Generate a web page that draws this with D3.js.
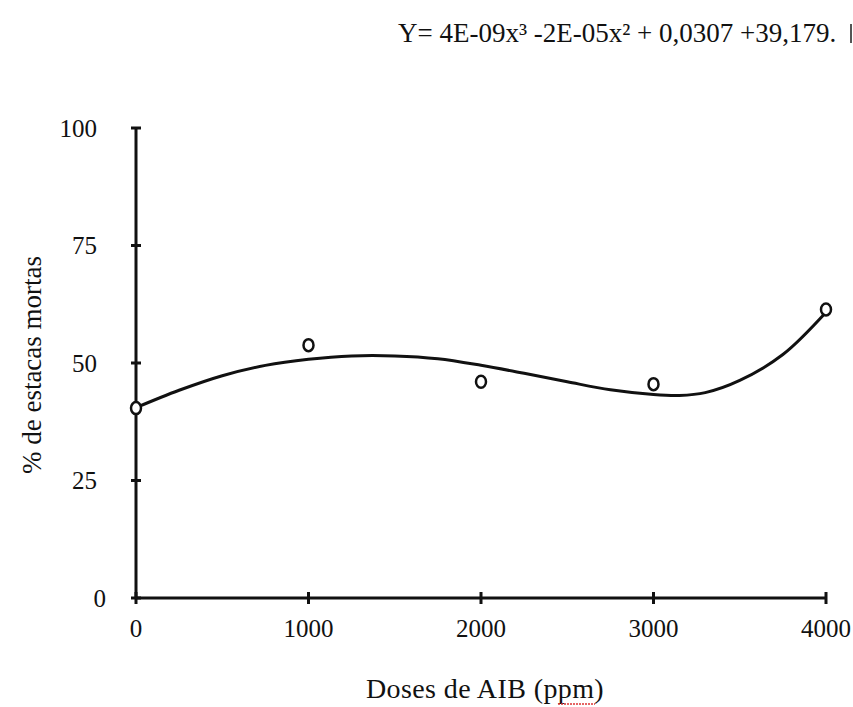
<!DOCTYPE html>
<html>
<head>
<meta charset="utf-8">
<script src="https://cdn.jsdelivr.net/npm/d3@7"></script>
<style>
  body { margin: 0; background: #fff; }
</style>
</head>
<body>
<svg id="chart"></svg>
<script>
// observed points
const doses = [0, 1000, 2000, 3000, 4000];
const mortas = [40.4, 53.8, 46.0, 45.5, 61.4];

// fitted trend curve
const curveX = [0, 250, 500, 750, 1000, 1250, 1500, 1750, 2000, 2250, 2500, 2750, 3000, 3150, 3300, 3500, 3750, 4000];
const curveY = [40.5, 44.2, 47.3, 49.5, 50.8, 51.5, 51.5, 50.9, 49.5, 47.8, 46.0, 44.3, 43.3, 43.1, 43.7, 46.3, 51.8, 60.8];

const xTicks = [0, 1000, 2000, 3000, 4000];
const yTicks = [0, 25, 50, 75, 100];

const font = (size, ls = 0) => `font-family:'Liberation Serif';font-size:${size}px;letter-spacing:${ls}px`;

const margin = {top: 128, right: 27, bottom: 109, left: 136};
const W = 853, H = 707;
const width = W - margin.left - margin.right;
const height = H - margin.top - margin.bottom;

const svg = d3.select('#chart').attr('width', W).attr('height', H);
const chart = svg.append('g').attr('transform', `translate(${margin.left},${margin.top})`);

const x = d3.scaleLinear().domain([0, 4000]).range([0, width]);
const y = d3.scaleLinear().domain([0, 100]).range([height, 0]);

// axes lines
chart.append('line')
    .attr('x1', 0).attr('x2', 0).attr('y1', y(100)).attr('y2', y(0))
    .attr('stroke', '#111').attr('stroke-width', 3);
chart.append('line')
    .attr('x1', x(0)).attr('x2', x(4000)).attr('y1', y(0)).attr('y2', y(0))
    .attr('stroke', '#111').attr('stroke-width', 3);

// tick marks (cross the axis)
chart.selectAll('.ytick').data(yTicks).join('line')
    .attr('class', 'ytick')
    .attr('x1', -5).attr('x2', 5)
    .attr('y1', d => y(d)).attr('y2', d => y(d))
    .attr('stroke', '#111').attr('stroke-width', 3);
chart.selectAll('.xtick').data(xTicks).join('line')
    .attr('class', 'xtick')
    .attr('x1', d => x(d)).attr('x2', d => x(d))
    .attr('y1', height - 6).attr('y2', height + 6)
    .attr('stroke', '#111').attr('stroke-width', 3);

// tick labels (the zero label sits a bit closer to the axis in the original)
chart.selectAll('.ylab').data(yTicks).join('text')
    .attr('class', 'ylab')
    .attr('x', d => d === 0 ? -30 : -39).attr('y', d => y(d)).attr('dy', '0.35em')
    .attr('text-anchor', 'end').attr('style', font(25)).attr('fill', '#111')
    .text(d => d);
chart.selectAll('.xlab').data(xTicks).join('text')
    .attr('class', 'xlab')
    .attr('x', d => x(d)).attr('y', height + 39)
    .attr('text-anchor', 'middle').attr('style', font(25)).attr('fill', '#111')
    .text(d => d);

// trend line
const line = d3.line()
    .x(d => x(d[0])).y(d => y(d[1]))
    .curve(d3.curveCatmullRom);
chart.append('path')
    .datum(d3.zip(curveX, curveY))
    .attr('d', line)
    .attr('fill', 'none').attr('stroke', '#111').attr('stroke-width', 3);

// points
chart.selectAll('.pt').data(d3.zip(doses, mortas)).join('ellipse')
    .attr('class', 'pt')
    .attr('cx', d => x(d[0])).attr('cy', d => y(d[1]))
    .attr('rx', 5).attr('ry', 6)
    .attr('fill', '#fff').attr('stroke', '#111').attr('stroke-width', 2.5);

// axis titles
svg.append('text')
    .attr('x', 485).attr('y', 698)
    .attr('text-anchor', 'middle').attr('style', font(28, 0.4)).attr('fill', '#111')
    .text('Doses de AIB (ppm)');
// spell-check squiggle under "ppm"
svg.append('line')
    .attr('x1', 558).attr('x2', 595).attr('y1', 704).attr('y2', 704)
    .attr('stroke', '#d33').attr('stroke-width', 1.5).attr('stroke-dasharray', '2,1');

svg.append('text')
    .attr('transform', 'translate(41,365) rotate(-90)')
    .attr('text-anchor', 'middle').attr('style', font(27)).attr('fill', '#111')
    .text('% de estacas mortas');

// equation
svg.append('text')
    .attr('x', 398).attr('y', 42)
    .attr('style', font(27)).attr('fill', '#111')
    .text('Y= 4E-09x³ -2E-05x² + 0,0307 +39,179.');
svg.append('rect')
    .attr('x', 850).attr('y', 24).attr('width', 2).attr('height', 19)
    .attr('fill', '#555');
</script>
</body>
</html>
